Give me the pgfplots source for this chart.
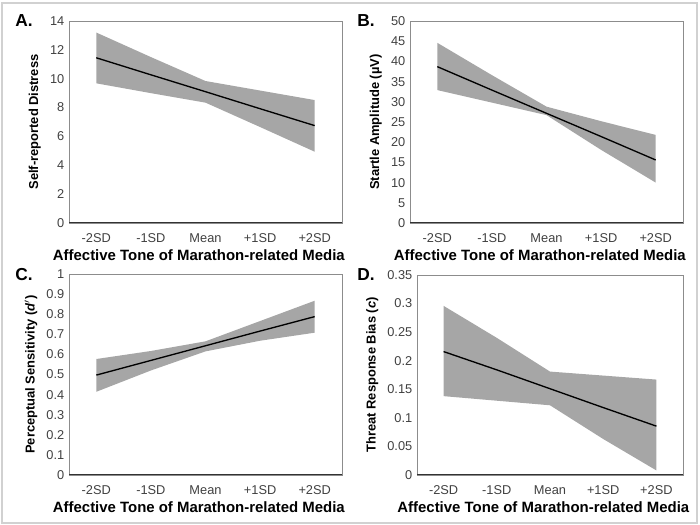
\documentclass[border=0pt]{standalone}
\usepackage{fontspec}
\setmainfont{Liberation Sans}
\usepackage{pgfplots}
\pgfplotsset{compat=1.18}
\definecolor{band}{HTML}{A6A6A6}
\definecolor{framec}{HTML}{8C8C8C}
\definecolor{tickc}{HTML}{404040}

\pgfplotstableread{
x up   lo   mid
0 13.2 9.68 11.45
1 11.5 9.00 10.27
2 9.84 8.34 9.10
3 9.18 6.65 7.92
4 8.52 4.94 6.75
}\dataA
\pgfplotstableread{
x up   lo   mid
0 44.6 32.9 38.7
1 36.6 29.8 32.9
2 28.8 26.7 27.15
3 25.2 18.1 21.4
4 21.8 10.0 15.6
}\dataB
\pgfplotstableread{
x up    lo    mid
0 0.577 0.414 0.497
1 0.617 0.520 0.570
2 0.665 0.615 0.643
3 0.766 0.668 0.716
4 0.867 0.708 0.788
}\dataC
\pgfplotstableread{
x up    lo    mid
0 0.296 0.138 0.216
1 0.240 0.130 0.184
2 0.181 0.122 0.151
3 0.174 0.063 0.118
4 0.167 0.008 0.0855
}\dataD

\pgfplotsset{panel/.style={
  scale only axis, anchor=south west,
  xmin=-0.5, xmax=4.5, xtick={0,...,4},
  xticklabels={-2SD,-1SD,Mean,+1SD,+2SD},
  major tick length=0pt,
  axis line style={framec, line width=0.7pt},
  tick label style={font=\fontsize{9.6}{11}\selectfont, text=tickc},
  xticklabel style={anchor=center, yshift=-11.25pt},
  /pgf/number format/assume math mode=true,
  xlabel={Affective Tone of Marathon-related Media},
  xlabel style={font=\bfseries\fontsize{11.2}{13}\selectfont,
    at={(axis description cs:0.5,0)}, anchor=center, yshift=-24pt, xshift=-5pt},
  ylabel style={font=\bfseries\fontsize{9.7}{11}\selectfont},
  xtick pos=bottom, ytick pos=left,
}}

\begin{document}
\begin{tikzpicture}[x=0.75pt, y=0.75pt]
\useasboundingbox (0,0) rectangle (700,525);
\draw[black!18, line width=0.8pt] (2,2) rectangle (697,522);

% A
\begin{axis}[panel, at={(51.75pt,226.5pt)}, width=204.75pt, height=151.5pt,
  ymin=0, ymax=14, ytick={0,2,...,14}, ylabel={Self-reported Distress}]
\addplot[fill=band, draw=none] coordinates {(0,13.2)(1,11.5)(2,9.84)(3,9.18)(4,8.52)(4,4.94)(3,6.65)(2,8.34)(1,9.0)(0,9.68)} --cycle;
\addplot[black, line width=1pt] table[x=x, y=mid] {\dataA};
\draw[black!80, line width=0.8pt] (rel axis cs:0,0) -- (rel axis cs:1,0);
\end{axis}

% B
\begin{axis}[panel, at={(307.5pt,226.5pt)}, width=204.75pt, height=151.5pt,
  ymin=0, ymax=50, ytick={0,5,...,50}, ylabel={Startle Amplitude (µV)}]
\addplot[fill=band, draw=none] coordinates {(0,44.6)(1,36.6)(2,28.8)(3,25.2)(4,21.8)(4,10.0)(3,18.1)(2,26.7)(1,29.8)(0,32.9)} --cycle;
\addplot[black, line width=1pt] table[x=x, y=mid] {\dataB};
\draw[black!80, line width=0.8pt] (rel axis cs:0,0) -- (rel axis cs:1,0);
\end{axis}

% C
\begin{axis}[panel, at={(51.75pt,37.5pt)}, width=204.75pt, height=150.75pt,
  ymin=0, ymax=1, ytick={0,0.1,...,1},
  yticklabels={0,0.1,0.2,0.3,0.4,0.5,0.6,0.7,0.8,0.9,1},
  ylabel={Perceptual Sensitivity (\textit{d}$'$)}]
\addplot[fill=band, draw=none] coordinates {(0,0.577)(1,0.617)(2,0.665)(3,0.766)(4,0.867)(4,0.708)(3,0.668)(2,0.615)(1,0.52)(0,0.414)} --cycle;
\addplot[black, line width=1pt] table[x=x, y=mid] {\dataC};
\draw[black!80, line width=0.8pt] (rel axis cs:0,0) -- (rel axis cs:1,0);
\end{axis}

% D
\begin{axis}[panel, at={(312.75pt,37.5pt)}, width=199.5pt, height=150pt,
  ymin=0, ymax=0.35, ytick={0,0.05,0.1,0.15,0.2,0.25,0.3,0.35},
  yticklabels={0,0.05,0.1,0.15,0.2,0.25,0.3,0.35},
  ylabel={Threat Response Bias (\textit{c})}]
\addplot[fill=band, draw=none] coordinates {(0,0.296)(1,0.240)(2,0.181)(3,0.174)(4,0.167)(4,0.008)(3,0.063)(2,0.122)(1,0.130)(0,0.138)} --cycle;
\addplot[black, line width=1pt] table[x=x, y=mid] {\dataD};
\draw[black!80, line width=0.8pt] (rel axis cs:0,0) -- (rel axis cs:1,0);
\end{axis}

\node[font=\bfseries\fontsize{13}{15}\selectfont] at (24,504) {A.};
\node[font=\bfseries\fontsize{13}{15}\selectfont] at (366,504) {B.};
\node[font=\bfseries\fontsize{13}{15}\selectfont] at (24,250) {C.};
\node[font=\bfseries\fontsize{13}{15}\selectfont] at (366,250) {D.};
\end{tikzpicture}
\end{document}
